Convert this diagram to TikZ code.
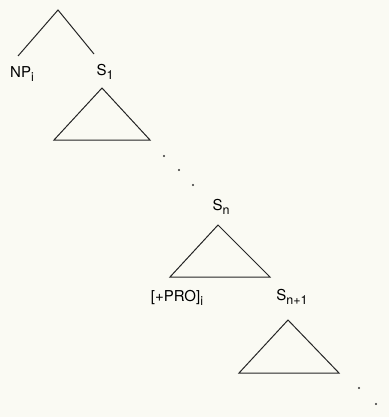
\documentclass[tikz,border=0pt]{standalone}
\usepackage{fontspec}
\setmainfont{TeX Gyre Heros}
\definecolor{paper}{RGB}{250,250,243}
\newcommand{\lowsub}[1]{\raisebox{-0.55ex}{\fontsize{12.5}{12.5}\selectfont #1}}
\begin{document}
\begin{tikzpicture}[x=1pt,y=-1pt,
  lbl/.style={inner sep=0pt,font=\fontsize{15}{15}\selectfont},
  edge/.style={line width=1pt,draw=black!85},
  tri/.style={line width=1pt,draw=black!85},
  dot/.style={circle,fill=black!80,inner sep=0pt,minimum size=2.4pt}]
\useasboundingbox[fill=paper] (0,0) rectangle (389,417);
% top branching
\coordinate (top) at (58,10);
\node[lbl] (np) at (22,74) {NP\lowsub{i}};
\node[lbl] (s1) at (105,72) {S\lowsub{1}};
\coordinate (npt) at (18,56);
\coordinate (s1t) at (94,54);
\draw[edge] (npt) -- (top) -- (s1t);
% triangle under S1
\coordinate (t1a) at (102,88);
\coordinate (t1l) at (54,140);
\coordinate (t1r) at (150,140);
\draw[tri] (t1a) -- (t1l) -- (t1r) -- cycle;
% dots
\node[dot] (d1) at (164,156) {};
\node[dot] (d2) at (179,170) {};
\node[dot] (d3) at (193,185) {};
% S_n
\node[lbl] (sn) at (221,207) {S\lowsub{n}};
\coordinate (tna) at (218,225);
\coordinate (tnl) at (170,277);
\coordinate (tnr) at (270,277);
\draw[tri] (tna) -- (tnl) -- (tnr) -- cycle;
\node[lbl] (pro) at (177,298) {[+PRO]\lowsub{i}};
\node[lbl] (sn1) at (292,297) {S\lowsub{n+1}};
\coordinate (tma) at (288,320);
\coordinate (tml) at (239,373);
\coordinate (tmr) at (339,373);
\draw[tri] (tma) -- (tml) -- (tmr) -- cycle;
\node[dot] (d4) at (359,388) {};
\node[dot] (d5) at (376,404) {};
\end{tikzpicture}
\end{document}
